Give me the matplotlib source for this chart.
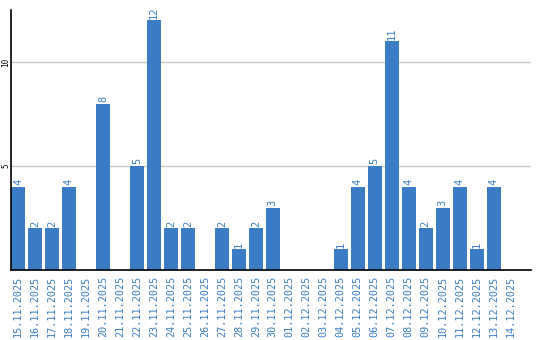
import matplotlib
matplotlib.use("Agg")
import matplotlib.pyplot as plt

dates = ["15.11.2025", "16.11.2025", "17.11.2025", "18.11.2025", "19.11.2025",
         "20.11.2025", "21.11.2025", "22.11.2025", "23.11.2025", "24.11.2025",
         "25.11.2025", "26.11.2025", "27.11.2025", "28.11.2025", "29.11.2025",
         "30.11.2025", "01.12.2025", "02.12.2025", "03.12.2025", "04.12.2025",
         "05.12.2025", "06.12.2025", "07.12.2025", "08.12.2025", "09.12.2025",
         "10.12.2025", "11.12.2025", "12.12.2025", "13.12.2025", "14.12.2025"]
values = [4, 2, 2, 4, 0, 8, 0, 5, 12, 2, 2, 0, 2, 1, 2, 3, 0, 0, 0, 1,
          4, 5, 11, 4, 2, 3, 4, 1, 4, 0]
yticks = [5, 10]

blue = "#3a7dc4"
fig = plt.figure(figsize=(5.4, 3.4), dpi=100)
ax = fig.add_axes([11/540, 70/340, 520/540, 260/340])
x = list(range(len(dates)))
ax.bar(x, values, width=0.82, color=blue, zorder=2)
for xi, v in zip(x, values):
    if v > 0:
        ax.text(xi, v + 0.08, str(v), rotation=90, ha="center", va="bottom",
                color=blue, fontsize=7.5, family="DejaVu Sans Mono")
ax.set_xlim(-0.41, 30.2)
ax.set_ylim(0, 12.5)
ax.set_yticks(yticks)
ax.set_yticklabels([str(t) for t in yticks], rotation=90, va="center",
                   fontsize=5.5, family="DejaVu Sans Mono")
ax.set_xticks(x)
ax.set_xticklabels(dates, rotation=90, color=blue, fontsize=7.3,
                   family="DejaVu Sans Mono")
ax.tick_params(axis="x", length=0, pad=4)
ax.tick_params(axis="y", length=0, pad=0.5)
ax.grid(axis="y", color="#c8c8c8", linewidth=1, zorder=0)
for s in ["top", "right"]:
    ax.spines[s].set_visible(False)
ax.spines["left"].set_color("black")
ax.spines["bottom"].set_color("black")
ax.spines["left"].set_linewidth(1.2)
ax.spines["bottom"].set_linewidth(1.2)
fig.savefig("out.png", dpi=100)
